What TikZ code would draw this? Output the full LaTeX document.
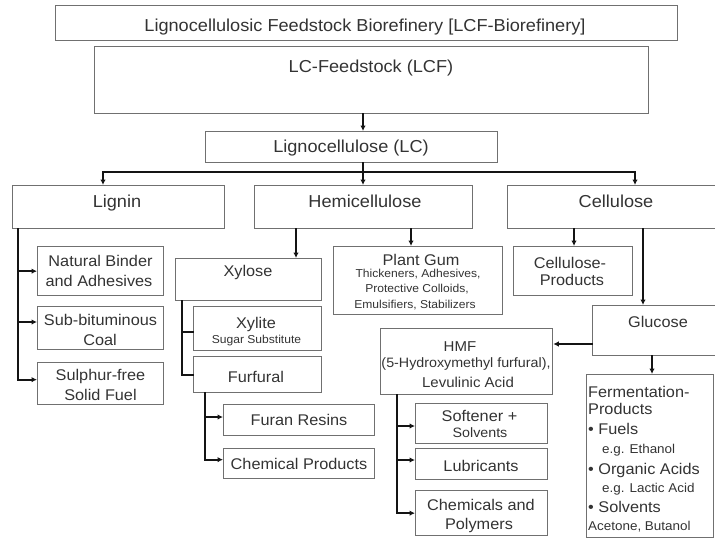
\documentclass[tikz,border=0pt]{standalone}
\usepackage{fontspec}
\setmainfont{Liberation Sans}[FakeStretch=1.05]
\usetikzlibrary{arrows.meta}
\definecolor{boxc}{HTML}{707070}
\definecolor{txtc}{HTML}{333333}
\begin{document}
\begin{tikzpicture}[x=1pt,y=-1pt,
  bx/.style={draw=boxc, line width=1.3pt, inner sep=0pt, anchor=north west, rectangle},
  lb/.style={text=txtc, inner sep=0pt, anchor=base},
  lbw/.style={text=txtc, inner sep=0pt, anchor=base west},
  fBig/.style={font=\fontsize{17.3}{20}\selectfont},
  fMid/.style={font=\fontsize{15.5}{18}\selectfont},
  fSm/.style={font=\fontsize{11.5}{13}\selectfont},
  fHm/.style={font=\fontsize{14.3}{16}\selectfont},
  fHs/.style={font=\fontsize{13.6}{16}\selectfont},
  fEg/.style={font=\fontsize{12.8}{15}\selectfont},
  conn/.style={draw=black!92, line width=2.2pt, line cap=rect},
  arr/.style={conn, -{Latex[length=5.5pt,width=5.5pt]}},
]
\useasboundingbox (0,0) rectangle (715,538);

% ---------- boxes ----------
\node[bx, minimum width=622, minimum height=35] (Title) at (55,5) {};
\node[bx, minimum width=554, minimum height=67] (LCF) at (94,46) {};
\node[bx, minimum width=292, minimum height=31] (LC) at (205,131) {};
\node[bx, minimum width=212, minimum height=43] (Lignin) at (12,185) {};
\node[bx, minimum width=218, minimum height=43] (Hemi) at (254,185) {};
\node[bx, minimum width=218, minimum height=43] (Cell) at (507,185) {};
\node[bx, minimum width=126, minimum height=49] (NatB) at (37,246) {};
\node[bx, minimum width=126, minimum height=43] (SubB) at (37,306) {};
\node[bx, minimum width=126, minimum height=42] (Sulph) at (37,362) {};
\node[bx, minimum width=146, minimum height=42] (Xylose) at (175,258) {};
\node[bx, minimum width=128, minimum height=44] (Xylite) at (193,306) {};
\node[bx, minimum width=128, minimum height=36] (Furf) at (193,356) {};
\node[bx, minimum width=151, minimum height=31] (FuranR) at (223,404) {};
\node[bx, minimum width=151, minimum height=30] (ChemP) at (223,448) {};
\node[bx, minimum width=169, minimum height=68] (PG) at (333,246) {};
\node[bx, minimum width=119, minimum height=49] (CellP) at (513,246) {};
\node[bx, minimum width=133, minimum height=50] (Gluc) at (592,305) {};
\node[bx, minimum width=172, minimum height=66] (HMF) at (380,328) {};
\node[bx, minimum width=132, minimum height=40] (Soft) at (415,403) {};
\node[bx, minimum width=132, minimum height=31] (Lub) at (415,448) {};
\node[bx, minimum width=132, minimum height=45] (ChemPoly) at (415,490) {};
\node[bx, minimum width=127, minimum height=163] (Ferm) at (586,374) {};

% ---------- texts ----------
\node[lb,fBig] (tTitle) at (365,31.5) {Lignocellulosic Feedstock Biorefinery [LCF-Biorefinery]};
\node[lb,fBig] (tLCF) at (371,72.5) {LC-Feedstock (LCF)};
\node[lb,fBig] (tLC) at (351,152.5) {Lignocellulose (LC)};
\node[lb,fBig] (tLig) at (117,207.3) {Lignin};
\node[lb,fBig] (tHemi) at (365,207.3) {Hemicellulose};
\node[lb,fBig] (tCell) at (616,207.3) {Cellulose};

\node[lb,fMid] (tNB1) at (100.5,266.7) {Natural Binder};
\node[lb,fMid] (tNB2) at (99,286.7) {and Adhesives};
\node[lb,fMid] (tSB1) at (100.5,325.7) {Sub-bituminous};
\node[lb,fMid] (tSB2) at (100,345) {Coal};
\node[lb,fMid] (tSF1) at (100.5,380.7) {Sulphur-free};
\node[lb,fMid] (tSF2) at (100.5,400) {Solid Fuel};

\node[lb,fMid] (tXylose) at (248,276.7) {Xylose};
\node[lb,fMid] (tXylite) at (256,328.3) {Xylite};
\node[lb,fSm] (tSugar) at (256.5,343.3) {Sugar Substitute};
\node[lb,fMid] (tFurf) at (256,382.7) {Furfural};
\node[lb,fMid] (tFuranR) at (299,425.7) {Furan Resins};
\node[lb,fMid] (tChemP) at (299,469) {Chemical Products};

\node[lb,fMid] (tPG) at (421,265) {Plant Gum};
\node[lb,fSm] (tPG1) at (418,277.7) {Thickeners, Adhesives,};
\node[lb,fSm] (tPG2) at (417,292.7) {Protective Colloids,};
\node[lb,fSm] (tPG3) at (415,308.3) {Emulsifiers, Stabilizers};

\node[lb,fMid] (tCP1) at (570,268.3) {Cellulose-};
\node[lb,fMid] (tCP2) at (572,285) {Products};
\node[lb,fMid] (tGluc) at (658,327) {Glucose};

\node[lb,fHm] (tHMF1) at (460,351) {HMF};
\node[lb,fHs] (tHMF2) at (466,367.3) {(5-Hydroxymethyl furfural),};
\node[lb,fHm] (tHMF3) at (468,387.3) {Levulinic Acid};

\node[lb,fMid] (tSo1) at (479.5,421) {Softener +};
\node[lb,fHs] (tSo2) at (480,437.7) {Solvents};
\node[lb,fMid] (tLub) at (481,471) {Lubricants};
\node[lb,fMid] (tCh1) at (481,510) {Chemicals and};
\node[lb,fMid] (tCh2) at (479,529.3) {Polymers};

\node[lbw,fMid] (tF1) at (588,397.3) {Fermentation-};
\node[lbw,fMid] (tF2) at (588,414) {Products};
\node[lbw,fMid] (tF3) at (588,434) {• Fuels};
\node[lbw,fEg] (tF4) at (602,453.3) {e.g. Ethanol};
\node[lbw,fMid] (tF5) at (588,474.3) {• Organic Acids};
\node[lbw,fEg] (tF6) at (602,492.3) {e.g. Lactic Acid};
\node[lbw,fMid] (tF7) at (588,512.7) {• Solvents};
\node[lbw,fEg] (tF8) at (588,530) {Acetone, Butanol};

% ---------- helper coordinates ----------
\coordinate (xMain) at (363,0);
\coordinate (yBus) at (0,172);
\coordinate (xLig) at (103,0);
\coordinate (xCel) at (635,0);
\coordinate (xL) at (18,0);
\coordinate (ySB) at (0,322);
\coordinate (xXyl) at (296,0);
\coordinate (xPG) at (411,0);
\coordinate (xX) at (182,0);
\coordinate (yXt) at (0,332);
\coordinate (xF) at (205,0);
\coordinate (yFR) at (0,417);
\coordinate (xCP) at (574,0);
\coordinate (xGl) at (643,0);
\coordinate (yGH) at (0,344);
\coordinate (xFe) at (652,0);
\coordinate (xH) at (397,0);
\coordinate (ySo) at (0,426);
\coordinate (yLu) at (0,460);

% ---------- connectors ----------
\draw[arr] (LCF.south -| xMain) -- (LC.north -| xMain);
\draw[conn] (LC.south -| xMain) -- (xMain |- yBus);
\draw[conn] (xLig |- yBus) -- (xCel |- yBus);
\draw[arr] (xLig |- yBus) -- (Lignin.north -| xLig);
\draw[arr] (xMain |- yBus) -- (Hemi.north -| xMain);
\draw[arr] (xCel |- yBus) -- (Cell.north -| xCel);

\draw[arr] (Lignin.south -| xL) |- ([yshift=4pt]Sulph.west);
\draw[arr] (xL |- NatB.west) -- (NatB.west);
\draw[arr] (xL |- ySB) -- (SubB.west |- ySB);

\draw[arr] (Hemi.south -| xXyl) -- (Xylose.north -| xXyl);
\draw[arr] (Hemi.south -| xPG) -- (PG.north -| xPG);
\draw[conn] (Xylose.south -| xX) |- (Furf.west);
\draw[conn] (xX |- yXt) -- (Xylite.west |- yXt);
\draw[arr] (Furf.south -| xF) |- ([yshift=4pt]ChemP.west);
\draw[arr] (xF |- yFR) -- (FuranR.west |- yFR);

\draw[arr] (Cell.south -| xCP) -- (CellP.north -| xCP);
\draw[arr] (Cell.south -| xGl) -- (Gluc.north -| xGl);
\draw[arr] (Gluc.west |- yGH) -- (HMF.east |- yGH);
\draw[arr] (Gluc.south -| xFe) -- (Ferm.north -| xFe);
\draw[arr] (HMF.south -| xH) |- (ChemPoly.west);
\draw[arr] (xH |- ySo) -- (Soft.west |- ySo);
\draw[arr] (xH |- yLu) -- (Lub.west |- yLu);
\end{tikzpicture}
\end{document}
